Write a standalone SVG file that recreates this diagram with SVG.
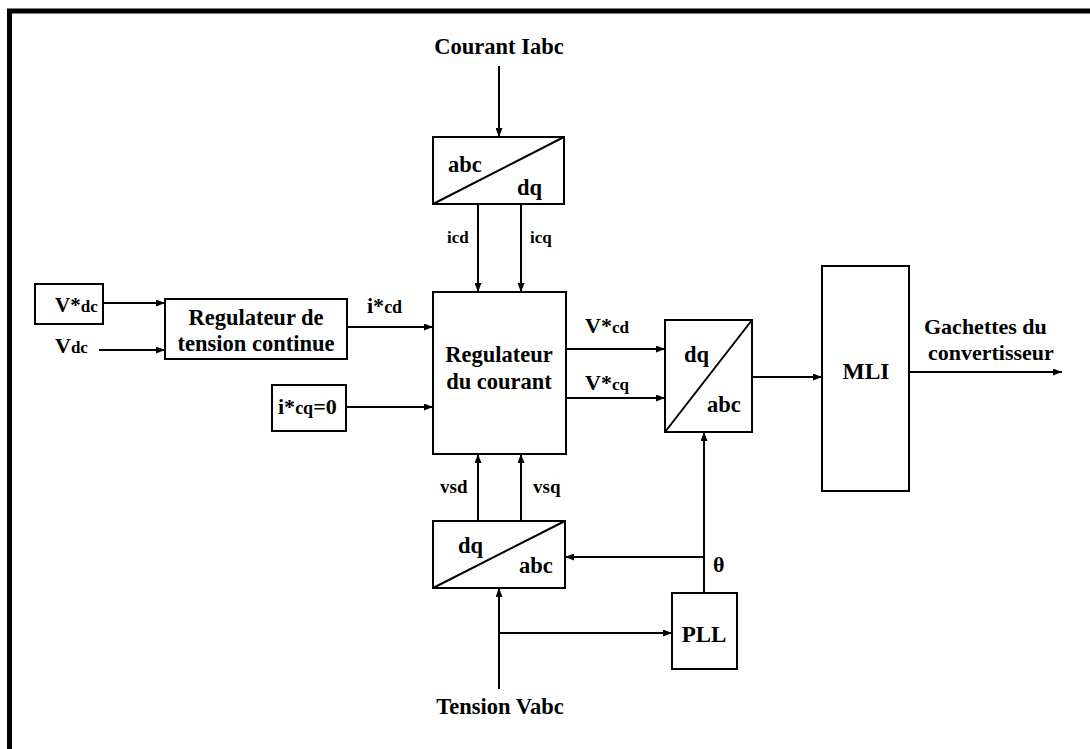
<svg xmlns="http://www.w3.org/2000/svg" width="1090" height="749" viewBox="0 0 1090 749">
<defs>
<style>
.b{fill:#fff;stroke:#000;stroke-width:2}
.l{fill:none;stroke:#000;stroke-width:2}
.c{fill:none;stroke:#000;stroke-width:2;marker-end:url(#ah)}
text{font-family:"Liberation Serif","Times New Roman",serif;font-weight:bold;fill:#000}
.t{font-size:22.5px}
.s{font-size:17px}
.m{text-anchor:middle}
</style>
<marker id="ah" markerUnits="userSpaceOnUse" markerWidth="9" markerHeight="7" refX="9" refY="3.5" orient="auto">
<path d="M0,0 L9,3.5 L0,7 z" fill="#000"/>
</marker>
</defs>
<rect width="1090" height="749" fill="#fff"/>
<path d="M9.5,749 V11 H1090" fill="none" stroke="#000" stroke-width="5"/>

<g id="vdcref"><rect class="b" x="35" y="284" width="68" height="40"/>
<text x="55" y="312"><tspan font-size="21">V*</tspan><tspan font-size="17">dc</tspan></text></g>
<text x="55" y="353" id="vdc-label"><tspan font-size="22">V</tspan><tspan font-size="17">dc</tspan></text>

<g id="regtension"><rect class="b" x="165" y="299" width="182" height="60"/>
<text class="t m" x="256" y="325">Regulateur de</text>
<text class="t m" x="256" y="351">tension continue</text></g>

<g id="icqref"><rect class="b" x="272" y="385" width="74" height="46"/>
<text x="278" y="414"><tspan font-size="22">i*</tspan><tspan font-size="18">cq</tspan><tspan font-size="22">=0</tspan></text></g>

<g id="abcdq1"><rect class="b" x="433" y="137" width="131" height="67"/>
<path class="l" d="M433,204 L564,137"/>
<text class="t" x="448" y="172">abc</text>
<text class="t" x="517" y="195">dq</text></g>

<g id="regcourant"><rect class="b" x="433" y="292" width="133" height="162"/>
<text class="t m" x="499" y="362">Regulateur</text>
<text class="t m" x="499" y="389">du courant</text></g>

<g id="dqabc1"><rect class="b" x="665" y="320" width="87" height="112"/>
<path class="l" d="M665,432 L752,320"/>
<text class="t" x="684" y="362">dq</text>
<text class="t" x="707" y="412">abc</text></g>

<g id="mli"><rect class="b" x="822" y="266" width="87" height="225"/>
<text class="m" x="866" y="379" font-size="23.5">MLI</text></g>

<g id="dqabc2"><rect class="b" x="433" y="521" width="132" height="67"/>
<path class="l" d="M433,588 L565,521"/>
<text class="t" x="458" y="553">dq</text>
<text class="t" x="519" y="573">abc</text></g>

<g id="pll"><rect class="b" x="672" y="593" width="65" height="76"/>
<text class="m" x="704" y="642" font-size="23">PLL</text></g>

<g id="connectors">
<path class="c" d="M103,303 H165"/>
<path class="c" d="M99,350 H165"/>
<path class="c" d="M347,327 H433"/>
<path class="c" d="M346,407 H433"/>
<path class="c" d="M499,66 V137"/>
<path class="c" d="M478,204 V292"/>
<path class="c" d="M521,204 V292"/>
<path class="c" d="M478,521 V454"/>
<path class="c" d="M521,521 V454"/>
<path class="c" d="M566,349 H665"/>
<path class="c" d="M566,398 H665"/>
<path class="c" d="M752,377 H822"/>
<path class="c" d="M909,372 H1062"/>
<path class="c" d="M499,689 V588"/>
<path class="c" d="M499,633 H672"/>
<path class="c" d="M704,593 V432"/>
<path class="c" d="M704,557 H565"/>
</g>

<g id="labels">
<text class="t m" x="499" y="54" font-size="23">Courant Iabc</text>
<text class="t m" x="500" y="714">Tension Vabc</text>
<text x="367" y="313"><tspan font-size="22">i*</tspan><tspan font-size="18">cd</tspan></text>
<text class="s" x="447" y="243" font-size="18">icd</text>
<text class="s" x="530" y="243" font-size="18">icq</text>
<text x="440" y="493" font-size="19">vsd</text>
<text x="533" y="493" font-size="19">vsq</text>
<text x="585" y="333"><tspan font-size="22">V*</tspan><tspan font-size="17">cd</tspan></text>
<text x="585" y="390"><tspan font-size="22">V*</tspan><tspan font-size="17">cq</tspan></text>
<text x="713" y="572" font-size="22">θ</text>
<text x="924" y="334" font-size="22">Gachettes du</text>
<text x="928" y="360" font-size="22">convertisseur</text>
</g>
</svg>
